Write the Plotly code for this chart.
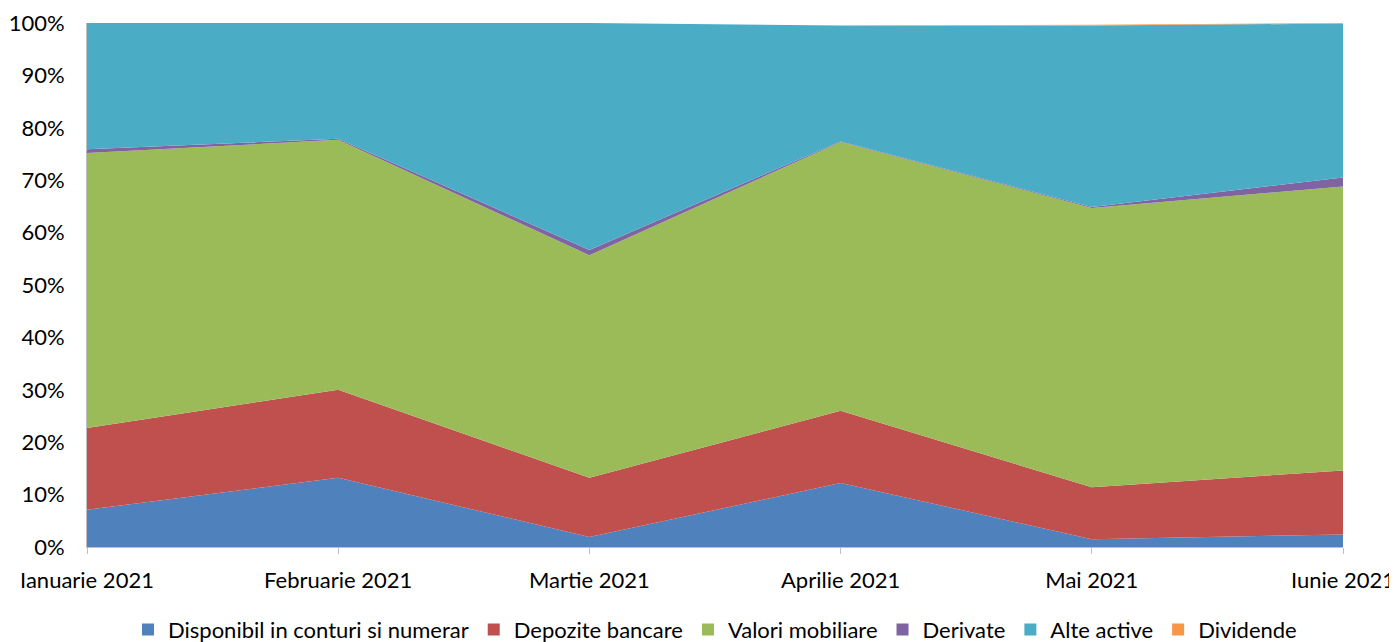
import plotly.graph_objects as go

months = ["Ianuarie 2021", "Februarie 2021", "Martie 2021", "Aprilie 2021", "Mai 2021", "Iunie 2021"]
disponibil = [7.1, 13.2, 1.9, 12.2, 1.5, 2.4]
depozite = [15.6, 16.8, 11.3, 13.8, 9.9, 12.2]
valori = [52.5, 47.7, 42.5, 51.3, 53.3, 54.2]
derivate = [0.7, 0.2, 1.0, 0.1, 0.2, 1.7]
alte = [24.1, 22.1, 43.3, 22.1, 34.6, 29.4]
dividende = [0.0, 0.0, 0.0, 0.0, 0.15, 0.1]

series = [
    ("Disponibil in conturi si numerar", disponibil, "#4F81BD"),
    ("Depozite bancare", depozite, "#C0504D"),
    ("Valori mobiliare", valori, "#9BBB59"),
    ("Derivate", derivate, "#8064A2"),
    ("Alte active", alte, "#4BACC6"),
    ("Dividende", dividende, "#F79646"),
]

fig = go.Figure()
for name, vals, col in series:
    fig.add_trace(go.Scatter(
        x=months, y=vals, name=name, stackgroup="one",
        mode="none", fillcolor=col, showlegend=False,
    ))
# legend entries with square swatches
for name, vals, col in series:
    fig.add_trace(go.Bar(
        x=[months[0]], y=[0], name=name, marker=dict(color=col, line=dict(width=0)),
        showlegend=True, hoverinfo="skip",
    ))

fig.update_layout(
    width=1389, height=634,
    margin=dict(l=79, r=54, t=15, b=95, autoexpand=False),
    plot_bgcolor="white", paper_bgcolor="white",
    font=dict(family="Lato", size=22, color="#000000"),
    showlegend=True,
    legend=dict(orientation="h", x=0.5, xanchor="center", y=-0.158, yanchor="middle",
                font=dict(size=22), itemwidth=30, traceorder="normal",
                tracegroupgap=0),
    xaxis=dict(type="category", range=[0, 5], showgrid=False, showline=True,
               linecolor="#BFBFBF", linewidth=1, ticks="outside", ticklen=6,
               tickcolor="#BFBFBF", zeroline=False, automargin=False,
               ticklabelstandoff=8),
    yaxis=dict(range=[0, 100], dtick=10, ticksuffix="%", showgrid=False,
               showline=True, linecolor="#BFBFBF", linewidth=1, zeroline=False,
               automargin=False, ticklabelstandoff=17),
)

fig.write_html("out.html")
